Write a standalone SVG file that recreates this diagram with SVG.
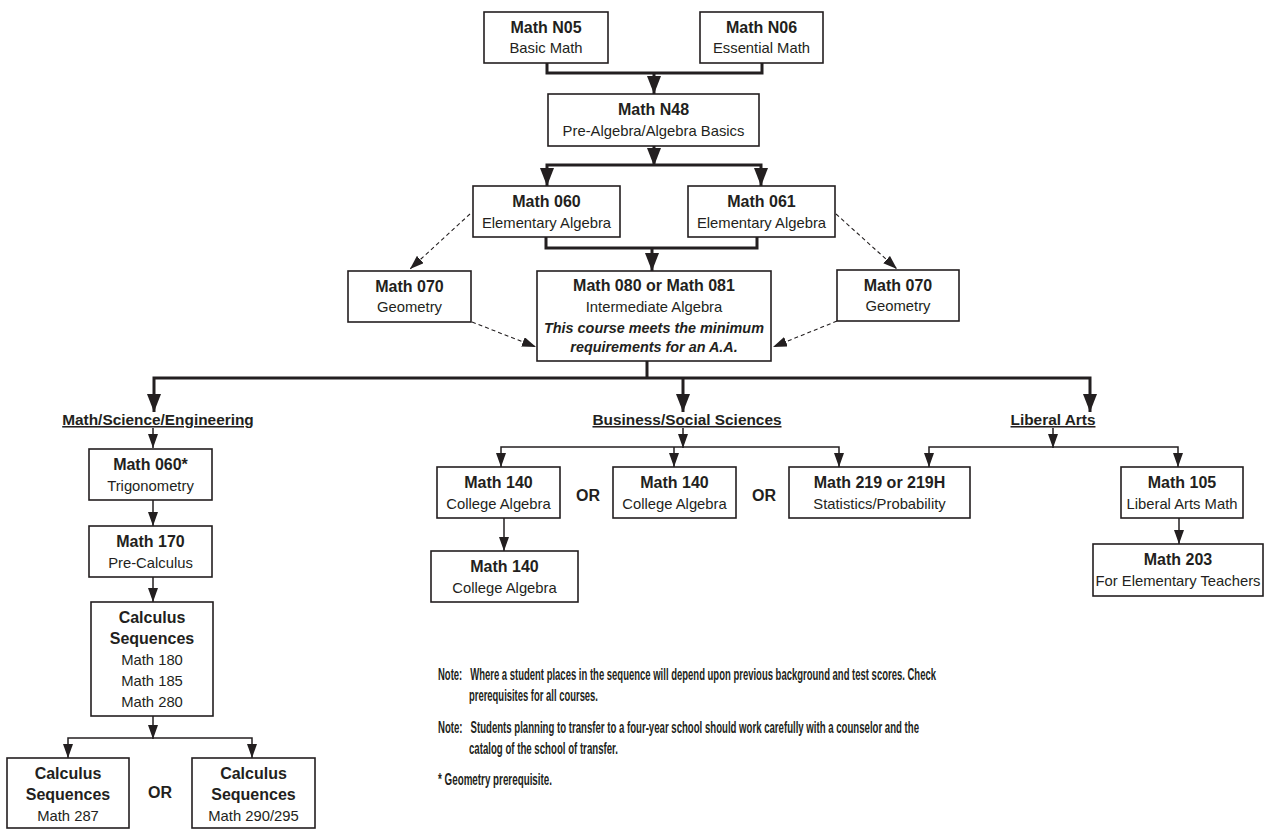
<svg xmlns="http://www.w3.org/2000/svg" width="1269" height="834" viewBox="0 0 1269 834">
<style>
  .box{fill:#fff;stroke:#231f20;stroke-width:1.6}
  text{font-family:"Liberation Sans",Arial,sans-serif;fill:#231f20;text-anchor:middle}
  .b{font-size:16px;font-weight:bold}
  .r{font-size:14.8px}
  .bi{font-size:14.4px;font-weight:bold;font-style:italic}
  .lab{font-size:15.4px;font-weight:bold;text-decoration:underline}
  .note{font-size:16px;font-weight:bold;text-anchor:start}
  .thick{fill:none;stroke:#231f20;stroke-width:3}
  .thin{fill:none;stroke:#231f20;stroke-width:1.5}
  .dash{fill:none;stroke:#231f20;stroke-width:1.1;stroke-dasharray:4 3}
</style>
<defs>
  <marker id="ah" viewBox="0 0 18 14" refX="18" refY="7" markerWidth="18" markerHeight="14" markerUnits="userSpaceOnUse" orient="auto">
    <path d="M0,0 L18,7 L0,14 z" fill="#231f20"/>
  </marker>
  <marker id="as" viewBox="0 0 14 10" refX="14" refY="5" markerWidth="14" markerHeight="10" markerUnits="userSpaceOnUse" orient="auto">
    <path d="M0,0 L14,5 L0,10 z" fill="#231f20"/>
  </marker>
  <marker id="ad" viewBox="0 0 14 10" refX="14" refY="5" markerWidth="14" markerHeight="10" markerUnits="userSpaceOnUse" orient="auto">
    <path d="M0,0 L14,5 L0,10 z" fill="#231f20"/>
  </marker>
</defs>
<rect width="1269" height="834" fill="#fff"/>

<g id="connectors">
  <path class="thick" d="M547,63 V73 H762 V63"/>
  <path class="thick" d="M654,73 V94" marker-end="url(#ah)"/>
  <path class="thick" d="M654,146 V166" marker-end="url(#ah)"/>
  <path class="thick" d="M654,165 H547 V186" marker-end="url(#ah)"/>
  <path class="thick" d="M654,165 H761 V186" marker-end="url(#ah)"/>
  <path class="thick" d="M546,237 V248 H757 V237"/>
  <path class="thick" d="M652,248 V271" marker-end="url(#ah)"/>
  <path class="dash" d="M470,214 L410,269" marker-end="url(#ad)"/>
  <path class="dash" d="M472,322 L536,347" marker-end="url(#ad)"/>
  <path class="dash" d="M836,214 L897,269" marker-end="url(#ad)"/>
  <path class="dash" d="M837,321 L773,347" marker-end="url(#ad)"/>
  <path class="thick" d="M647,361 V378"/>
  <path class="thick" d="M647,378 H154 V412" marker-end="url(#ah)"/>
  <path class="thick" d="M647,378 H1090 V412" marker-end="url(#ah)"/>
  <path class="thick" d="M683,378 V412" marker-end="url(#ah)"/>
  <path class="thin" d="M153,428 V448" marker-end="url(#as)"/>
  <path class="thin" d="M153,500 V526" marker-end="url(#as)"/>
  <path class="thin" d="M153,577 V602" marker-end="url(#as)"/>
  <path class="thin" d="M153,716 V739" marker-end="url(#as)"/>
  <path class="thin" d="M153,738 H68 V758" marker-end="url(#as)"/>
  <path class="thin" d="M153,738 H252 V758" marker-end="url(#as)"/>
  <path class="thin" d="M683,428 V448" marker-end="url(#as)"/>
  <path class="thin" d="M683,447 H501 V467" marker-end="url(#as)"/>
  <path class="thin" d="M683,447 H839 V467" marker-end="url(#as)"/>
  <path class="thin" d="M674,447 V467" marker-end="url(#as)"/>
  <path class="thin" d="M504,518 V551" marker-end="url(#as)"/>
  <path class="thin" d="M1053,428 V448" marker-end="url(#as)"/>
  <path class="thin" d="M1053,447 H929 V467" marker-end="url(#as)"/>
  <path class="thin" d="M1053,447 H1178 V467" marker-end="url(#as)"/>
  <path class="thin" d="M1179,518 V544" marker-end="url(#as)"/>
</g>

<g id="n05"><rect class="box" x="484" y="12" width="124" height="51"/><text class="b" x="546" y="33">Math N05</text><text class="r" x="546" y="53">Basic Math</text></g>
<g id="n06"><rect class="box" x="700" y="12" width="123" height="51"/><text class="b" x="761.5" y="33">Math N06</text><text class="r" x="761.5" y="53">Essential Math</text></g>
<g id="n48"><rect class="box" x="548" y="94" width="211" height="52"/><text class="b" x="653.5" y="115">Math N48</text><text class="r" x="653.5" y="136">Pre-Algebra/Algebra Basics</text></g>
<g id="m060"><rect class="box" x="473" y="186" width="147" height="51"/><text class="b" x="546.5" y="207">Math 060</text><text class="r" x="546.5" y="228">Elementary Algebra</text></g>
<g id="m061"><rect class="box" x="688" y="186" width="147" height="51"/><text class="b" x="761.5" y="207">Math 061</text><text class="r" x="761.5" y="228">Elementary Algebra</text></g>
<g id="m070l"><rect class="box" x="348" y="271" width="123" height="51"/><text class="b" x="409.5" y="292">Math 070</text><text class="r" x="409.5" y="312">Geometry</text></g>
<g id="m070r"><rect class="box" x="837" y="270" width="122" height="51"/><text class="b" x="898" y="291">Math 070</text><text class="r" x="898" y="311">Geometry</text></g>
<g id="m080"><rect class="box" x="537" y="271" width="234" height="90"/><text class="b" x="654" y="291">Math 080 or Math 081</text><text class="r" x="654" y="312">Intermediate Algebra</text><text class="bi" x="654" y="333">This course meets the minimum</text><text class="bi" x="654" y="352">requirements for an A.A.</text></g>

<g id="lab-mse"><text class="lab" x="158" y="425">Math/Science/Engineering</text></g>
<g id="lab-bss"><text class="lab" x="687" y="425">Business/Social Sciences</text></g>
<g id="lab-la"><text class="lab" x="1053" y="425">Liberal Arts</text></g>

<g id="m060s"><rect class="box" x="89" y="449" width="123" height="51"/><text class="b" x="150.5" y="470">Math 060*</text><text class="r" x="150.5" y="491">Trigonometry</text></g>
<g id="m170"><rect class="box" x="89" y="526" width="123" height="51"/><text class="b" x="150.5" y="547">Math 170</text><text class="r" x="150.5" y="568">Pre-Calculus</text></g>
<g id="calc"><rect class="box" x="91" y="602" width="122" height="114"/><text class="b" x="152" y="623">Calculus</text><text class="b" x="152" y="644">Sequences</text><text class="r" x="152" y="665">Math 180</text><text class="r" x="152" y="686">Math 185</text><text class="r" x="152" y="707">Math 280</text></g>
<g id="calc287"><rect class="box" x="7" y="758" width="122" height="70"/><text class="b" x="68" y="779">Calculus</text><text class="b" x="68" y="800">Sequences</text><text class="r" x="68" y="821">Math 287</text></g>
<g id="calc290"><rect class="box" x="192" y="758" width="123" height="70"/><text class="b" x="253.5" y="779">Calculus</text><text class="b" x="253.5" y="800">Sequences</text><text class="r" x="253.5" y="821">Math 290/295</text></g>
<g id="or3"><text class="b" x="160" y="798">OR</text></g>

<g id="m140a"><rect class="box" x="437" y="467" width="123" height="51"/><text class="b" x="498.5" y="488">Math 140</text><text class="r" x="498.5" y="509">College Algebra</text></g>
<g id="m140b"><rect class="box" x="613" y="467" width="123" height="51"/><text class="b" x="674.5" y="488">Math 140</text><text class="r" x="674.5" y="509">College Algebra</text></g>
<g id="m140c"><rect class="box" x="431" y="551" width="147" height="51"/><text class="b" x="504.5" y="572">Math 140</text><text class="r" x="504.5" y="593">College Algebra</text></g>
<g id="m219"><rect class="box" x="789" y="467" width="181" height="51"/><text class="b" x="879.5" y="488">Math 219 or 219H</text><text class="r" x="879.5" y="509">Statistics/Probability</text></g>
<g id="or1"><text class="b" x="588" y="501">OR</text></g>
<g id="or2"><text class="b" x="764" y="501">OR</text></g>
<g id="m105"><rect class="box" x="1121" y="467" width="122" height="51"/><text class="b" x="1182" y="488">Math 105</text><text class="r" x="1182" y="509">Liberal Arts Math</text></g>
<g id="m203"><rect class="box" x="1093" y="544" width="170" height="52"/><text class="b" x="1178" y="565">Math 203</text><text class="r" x="1178" y="586">For Elementary Teachers</text></g>

<g id="notes">
  <text class="note" transform="translate(438,680) scale(0.6,1)" x="0" y="0" textLength="830" lengthAdjust="spacingAndGlyphs">Note:&#160;&#160; Where a student places in the sequence will depend upon previous background and test scores. Check</text>
  <text class="note" transform="translate(469,701) scale(0.6,1)" x="0" y="0" textLength="215" lengthAdjust="spacingAndGlyphs">prerequisites for all courses.</text>
  <text class="note" transform="translate(438,733) scale(0.6,1)" x="0" y="0" textLength="801.7" lengthAdjust="spacingAndGlyphs">Note:&#160;&#160; Students planning to transfer to a four-year school should work carefully with a counselor and the</text>
  <text class="note" transform="translate(469,754) scale(0.6,1)" x="0" y="0" textLength="248.3" lengthAdjust="spacingAndGlyphs">catalog of the school of transfer.</text>
  <text class="note" transform="translate(438,785) scale(0.6,1)" x="0" y="0" textLength="190" lengthAdjust="spacingAndGlyphs">* Geometry prerequisite.</text>
</g>
</svg>
